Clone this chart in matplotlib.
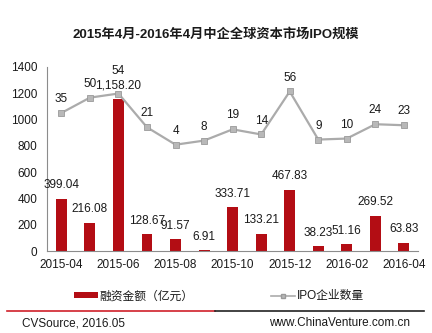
import matplotlib
matplotlib.use("Agg")
import matplotlib.pyplot as plt
from matplotlib.lines import Line2D
from matplotlib.patches import Patch

plt.rcParams['font.family'] = ['Liberation Sans', 'Noto Sans CJK SC', 'DejaVu Sans']

months = ["2015-04", "2015-05", "2015-06", "2015-07", "2015-08", "2015-09", "2015-10",
          "2015-11", "2015-12", "2016-01", "2016-02", "2016-03", "2016-04"]
financing = [399.04, 216.08, 1158.20, 128.67, 91.57, 6.91, 333.71,
             133.21, 467.83, 38.23, 51.16, 269.52, 63.83]
ipo_count = [35, 50, 54, 21, 4, 8, 19, 14, 56, 9, 10, 24, 23]

title = "2015年4月-2016年4月中企全球资本市场IPO规模"
bar_name = "融资金额（亿元）"
line_name = "IPO企业数量"
source_text = "CVSource, 2016.05"
site_text = "www.ChinaVenture.com.cn"

BAR_COLOR = "#B30D14"
LINE_COLOR = "#ABABAB"
TEXT_COLOR = "#1a1a1a"

fig = plt.figure(figsize=(4.32, 3.33), dpi=100)
ax = fig.add_axes([0.109, 0.246, 0.859, 0.553])
x = list(range(len(months)))

ax.bar(x, financing, width=0.38, color=BAR_COLOR, zorder=2)
ax.set_xlim(-0.5, len(months) - 0.5)
ax.set_ylim(0, 1400)
ax.set_yticks(range(0, 1401, 200))
ax.set_xticks(x[::2])
ax.set_xticklabels(months[::2])
ax.tick_params(axis='both', length=0, labelsize=8.5, colors=TEXT_COLOR)
ax.tick_params(axis='x', pad=6)
ax.tick_params(axis='y', pad=7)
for side in ("top", "right"):
    ax.spines[side].set_visible(False)
for side in ("left", "bottom"):
    ax.spines[side].set_color("#8c8c8c")
    ax.spines[side].set_linewidth(0.8)

for xi, v in zip(x, financing):
    ax.annotate(f"{v:,.2f}", (xi, v), xytext=(0, 9.5), textcoords="offset points",
                ha="center", va="center", fontsize=8.5, color=TEXT_COLOR, zorder=3)

ax2 = ax.twinx()
ax2.set_ylim(-100, 80)
ax2.axis("off")
ax2.plot(x, ipo_count, color=LINE_COLOR, lw=1.6, marker="s", markersize=4,
         markerfacecolor="#B8B8B8", markeredgecolor="#9a9a9a", markeredgewidth=0.6, zorder=4)
for xi, v in zip(x, ipo_count):
    dy = 16.5 if v == 54 else 10
    ax2.annotate(str(v), (xi, v), xytext=(0, dy), textcoords="offset points",
                 ha="center", va="center", fontsize=8.5, color=TEXT_COLOR)

fig.text(0.5, 0.898, title, ha="center", va="center", fontsize=9.5,
         fontweight="bold", color=TEXT_COLOR,
         family=['Liberation Sans', 'Noto Sans CJK SC'])

handles = [Patch(facecolor=BAR_COLOR, edgecolor="none"),
           Line2D([], [], color=LINE_COLOR, lw=1.2, marker="s", markersize=3,
                  markerfacecolor="#B8B8B8", markeredgecolor="#9a9a9a")]
leg = fig.legend(handles, [bar_name, line_name], loc="center",
                 bbox_to_anchor=(0.507, 0.11), ncol=2, frameon=False,
                 fontsize=8.5, handlelength=2.0, handleheight=0.35,
                 handletextpad=0.15, columnspacing=6.6)
for t in leg.get_texts():
    t.set_color(TEXT_COLOR)

fig.add_artist(Line2D([0.016, 0.497], [0.066, 0.066], color="#D0202A", lw=1.2,
                      transform=fig.transFigure))
fig.add_artist(Line2D([0.497, 0.982], [0.066, 0.066], color="#222222", lw=1.2,
                      transform=fig.transFigure))
fig.text(0.051, 0.03, source_text, ha="left", va="center", fontsize=8.5, color=TEXT_COLOR)
fig.text(0.948, 0.03, site_text, ha="right", va="center", fontsize=8.5, color=TEXT_COLOR)

fig.savefig("out.png", dpi=100)
